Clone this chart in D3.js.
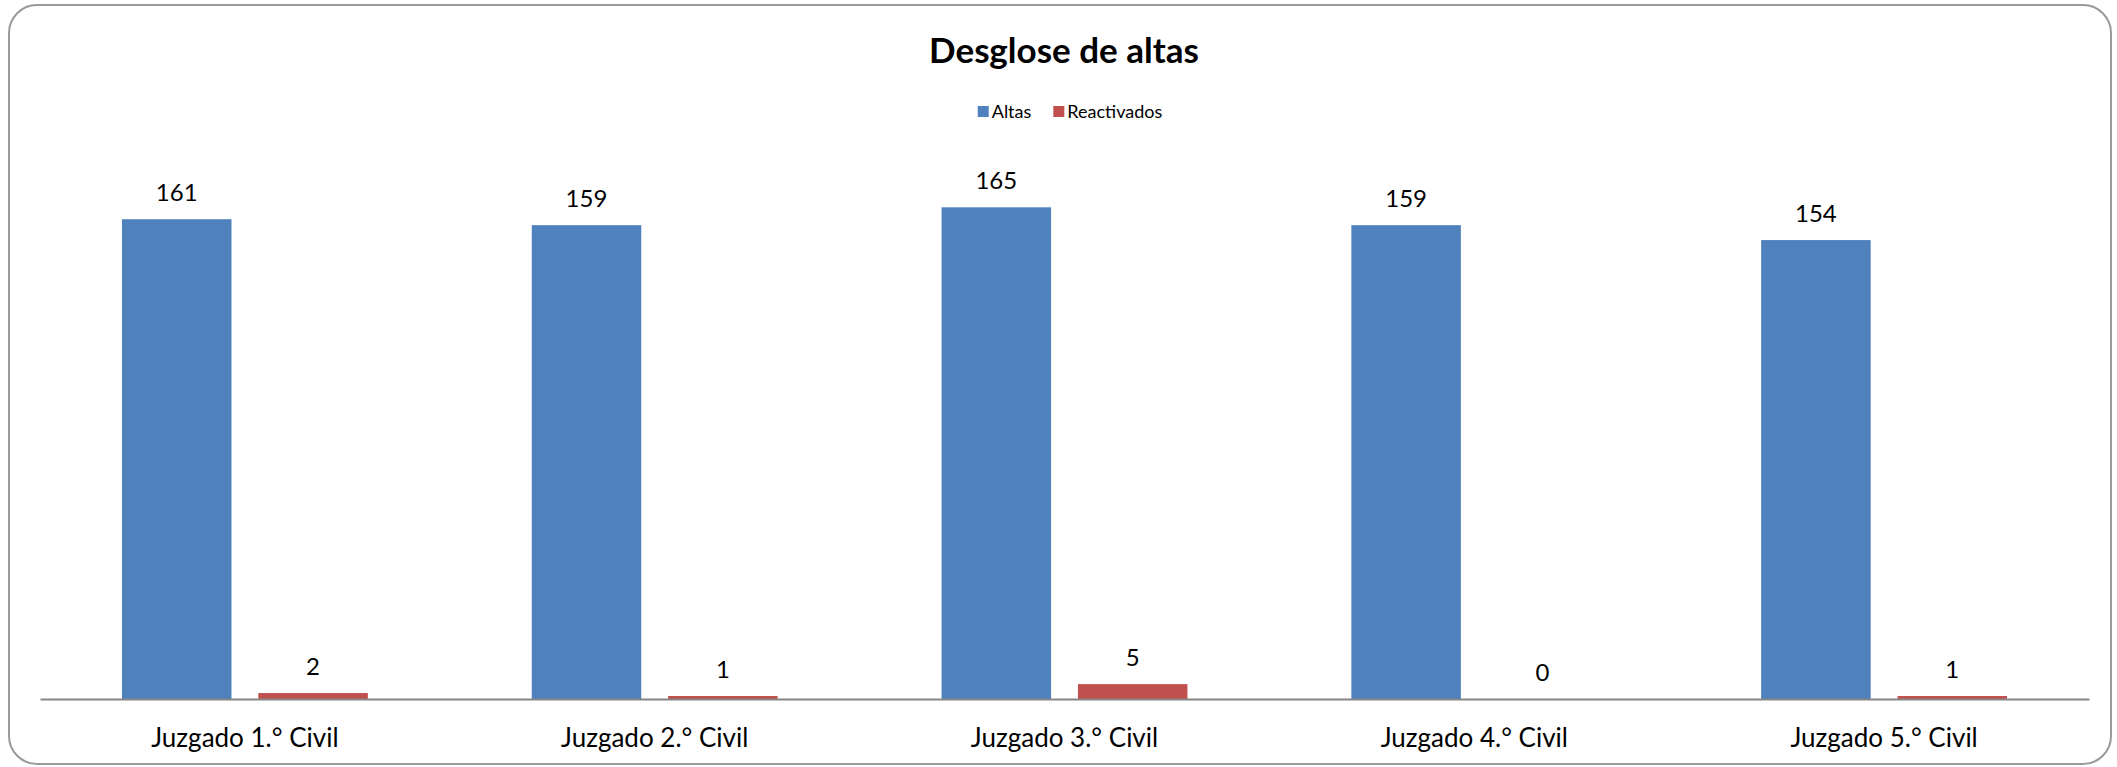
<!DOCTYPE html>
<html>
<head>
<meta charset="utf-8">
<script src="https://cdn.jsdelivr.net/npm/d3@7"></script>
<style>
  body { margin: 0; background: #fff; }
  text { font-family: Lato, "Open Sans", sans-serif; fill: #000; }
</style>
</head>
<body>
<div class="chart"></div>
<script>
// data
var categories = ["Juzgado 1.° Civil", "Juzgado 2.° Civil", "Juzgado 3.° Civil", "Juzgado 4.° Civil", "Juzgado 5.° Civil"];
var seriesNames = ["Altas", "Reactivados"];
var altas = [161, 159, 165, 159, 154];
var reactivados = [2, 1, 5, 0, 1];
var colors = ["#4F81BD", "#C0504D"];

var W = 2117, H = 767;
var rows = categories.map(function(c, i){
	return { cat: c, values: [altas[i], reactivados[i]] };
});

var svg = d3.select(".chart").append("svg")
	.attr("width", W)
	.attr("height", H);

// frame with rounded corners
svg.append("rect")
	.attr("x", 9).attr("y", 5)
	.attr("width", 2102).attr("height", 759)
	.attr("rx", 28)
	.attr("fill", "#fff")
	.attr("stroke", "#9a9a9a")
	.attr("stroke-width", 2);

var x0 = d3.scaleBand()
	.domain(categories)
	.range([40, 2089])
	.paddingInner(0.4)
	.paddingOuter(0.2);

var x1 = d3.scaleBand()
	.domain(d3.range(seriesNames.length))
	.range([0, x0.bandwidth()])
	.paddingInner(0.197);

var y = d3.scaleLinear()
	.domain([0, 180])
	.range([699, 699 - 180 * 2.98]);

// bars
var groups = svg.append("g").selectAll("g")
	.data(rows)
	.join("g")
	.attr("transform", function(d){ return "translate(" + x0(d.cat) + ",0)"; });

groups.selectAll("rect")
	.data(function(d){ return d.values; })
	.join("rect")
	.attr("x", function(d, i){ return x1(i); })
	.attr("y", function(d){ return y(d); })
	.attr("width", x1.bandwidth())
	.attr("height", function(d){ return y(0) - y(d); })
	.attr("fill", function(d, i){ return colors[i]; });

groups.selectAll("text")
	.data(function(d){ return d.values; })
	.join("text")
	.attr("x", function(d, i){ return x1(i) + x1.bandwidth() / 2; })
	.attr("y", function(d){ return y(d) - 18; })
	.attr("text-anchor", "middle")
	.style("font-size", "24px")
	.text(function(d){ return d; });

// x axis
var xAxis = d3.axisBottom(x0).tickSize(0).tickPadding(0);
var ax = svg.append("g")
	.attr("transform", "translate(0," + y(0) + ")")
	.call(xAxis);
ax.select(".domain").attr("stroke", "#868686").attr("stroke-width", 2);
ax.selectAll(".tick text")
	.attr("y", 48)
	.attr("dy", null)
	.style("font-size", "26px");

// title
svg.append("text")
	.attr("x", 1064).attr("y", 63)
	.attr("text-anchor", "middle")
	.style("font-size", "35px")
	.style("font-weight", "bold")
	.text("Desglose de altas");

// legend
var legend = svg.append("g");
var lx = 0;
seriesNames.forEach(function(s, i){
	var g = legend.append("g").attr("transform", "translate(" + lx + ",0)");
	g.append("rect")
		.attr("x", 0).attr("y", 106)
		.attr("width", 11).attr("height", 11)
		.attr("fill", colors[i]);
	var t = g.append("text")
		.attr("x", 14).attr("y", 118)
		.style("font-size", "18px")
		.text(s);
	lx += 14 + t.node().getComputedTextLength() + 22;
});
var lw = lx - 22;
legend.attr("transform", "translate(" + (1070 - lw / 2) + ",0)");
</script>
</body>
</html>
